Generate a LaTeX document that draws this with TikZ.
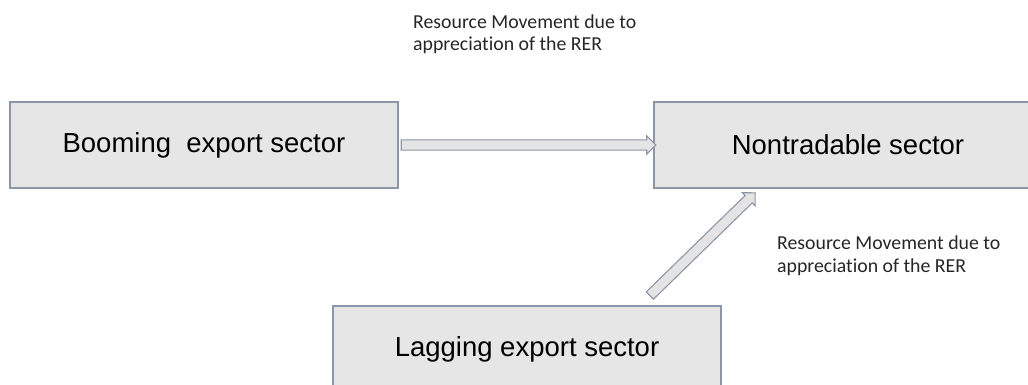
\documentclass[tikz,border=0pt]{standalone}
\usepackage{fontspec}
\setmainfont{Liberation Sans}
\newfontfamily\notefont{Carlito}[Ligatures=NoCommon]
\usepackage{tikz}
\usetikzlibrary{calc, shapes.arrows}
\definecolor{edge}{HTML}{8C96A6}
\definecolor{boxbg}{HTML}{E6E6E6}
\definecolor{arrowbg}{HTML}{E4E4E4}
\definecolor{notetext}{HTML}{262626}
\tikzset{
  sector/.style={
    draw=edge,
    line width=1.3pt,
    fill=boxbg,
    minimum width=388pt,
    minimum height=86pt,
    inner sep=0pt,
    font=\fontsize{27.5}{33}\selectfont
  },
  note/.style={
    anchor=base west,
    inner sep=0pt,
    align=left,
    text=notetext,
    font=\notefont\fontsize{19.8}{22.4}\selectfont
  },
  flow/.style={
    single arrow,
    draw=edge,
    line width=1.1pt,
    fill=arrowbg,
    inner sep=4.6pt,
    single arrow head extend=4pt,
    single arrow tip angle=90,
    sloped
  }
}

\begin{document}
\begin{tikzpicture}[x=1pt, y=-1pt]
  \useasboundingbox (0,0) rectangle (1028,385);

  % ====== SECTORS ======
  \node[sector] (boom) at (204, 145) {Booming\ \ export sector};
  \node[sector] (nontr) at (848, 145) {Nontradable sector};
  \node[sector] (lag) at (527, 349) {Lagging export sector};

  % ====== FLOW ENDS ======
  \coordinate (lagout) at ($(lag.north) + (121, -8)$);
  \coordinate (nontrin) at ($(nontr.south west) + (100, 6)$);

  % ====== FLOWS ======
  % booming -> nontradable
  \path let \p1=(boom.east), \p2=(nontr.west), \n1={veclen(\x2-\x1,\y2-\y1)} in
    (\p1) -- (\p2) node[flow, midway, minimum height=\n1] (flowtop) {};
  % lagging -> nontradable
  \path let \p1=(lagout), \p2=(nontrin), \n1={veclen(\x2-\x1,\y2-\y1)} in
    (\p1) -- (\p2) node[flow, midway, minimum height=\n1] (flowdiag) {};

  % ====== LABELS ======
  \node[note] (notetop) at (413, 51) {Resource Movement due to\\appreciation of the RER};
  \node[note] (notediag) at (777, 272) {Resource Movement due to\\appreciation of the RER};

\end{tikzpicture}
\end{document}
